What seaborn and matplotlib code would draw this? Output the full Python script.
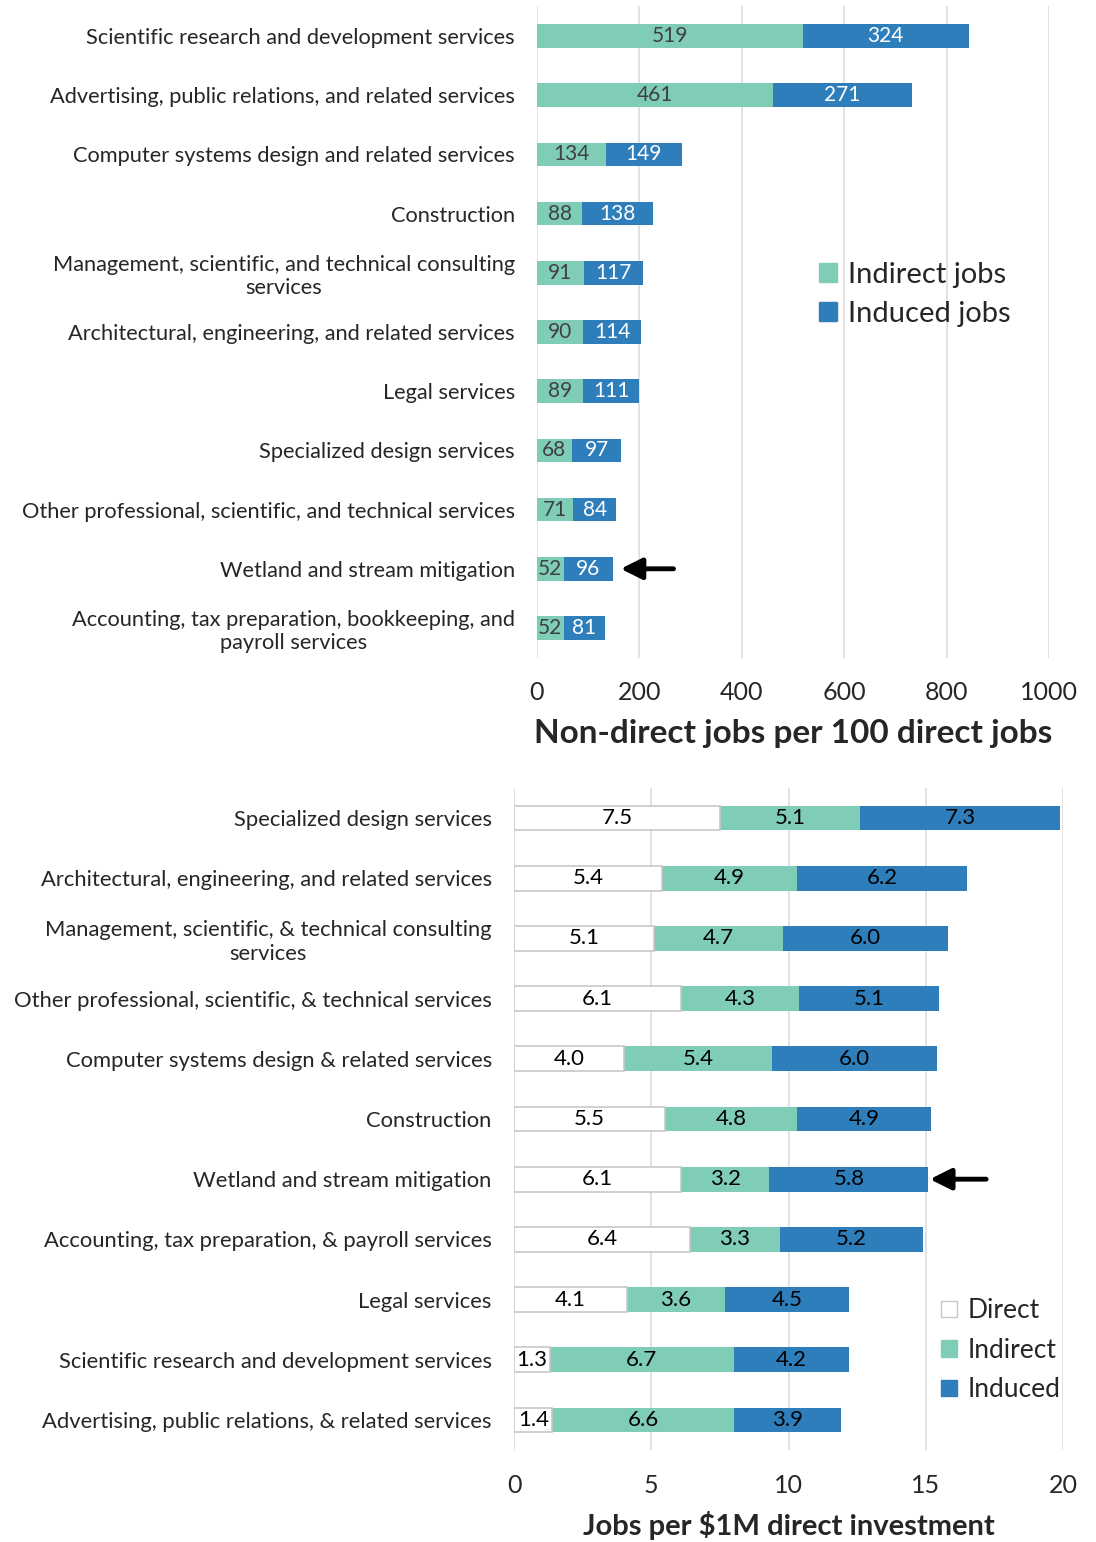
import matplotlib
matplotlib.use("Agg")
import matplotlib.pyplot as plt
import seaborn as sns
import pandas as pd
import numpy as np
from matplotlib.patches import Patch

# ---------------- data ----------------
top_categories = [
    "Scientific research and development services",
    "Advertising, public relations, and related services",
    "Computer systems design and related services",
    "Construction",
    "Management, scientific, and technical consulting\nservices",
    "Architectural, engineering, and related services",
    "Legal services",
    "Specialized design services",
    "Other professional, scientific, and technical services",
    "Wetland and stream mitigation",
    "Accounting, tax preparation, bookkeeping, and\npayroll services",
]
top_indirect = [519, 461, 134, 88, 91, 90, 89, 68, 71, 52, 52]
top_induced = [324, 271, 149, 138, 117, 114, 111, 97, 84, 96, 81]
top_ticks = [0, 200, 400, 600, 800, 1000]

bot_categories = [
    "Specialized design services",
    "Architectural, engineering, and related services",
    "Management, scientific, & technical consulting\nservices",
    "Other professional, scientific, & technical services",
    "Computer systems design & related services",
    "Construction",
    "Wetland and stream mitigation",
    "Accounting, tax preparation, & payroll services",
    "Legal services",
    "Scientific research and development services",
    "Advertising, public relations, & related services",
]
bot_direct = [7.5, 5.4, 5.1, 6.1, 4.0, 5.5, 6.1, 6.4, 4.1, 1.3, 1.4]
bot_indirect = [5.1, 4.9, 4.7, 4.3, 5.4, 4.8, 3.2, 3.3, 3.6, 6.7, 6.6]
bot_induced = [7.3, 6.2, 6.0, 5.1, 6.0, 4.9, 5.8, 5.2, 4.5, 4.2, 3.9]
bot_ticks = [0, 5, 10, 15, 20]

C_IND = "#80CDB7"
C_INDUCED = "#2E7EBB"
C_EDGE = "#C8C8C8"
GRID = "#DDDDDD"

sns.set_theme(style="white")
plt.rcParams['font.family'] = ['Lato', 'DejaVu Sans']

fig = plt.figure(figsize=(10.96, 15.42), dpi=100)

# ---------------- top chart ----------------
ax1 = fig.add_axes([537/1096, 1-657.6/1542, 512/1096, 651.2/1542])
df1 = pd.DataFrame({"cat": top_categories, "indirect": top_indirect, "induced": top_induced})
df1["total"] = df1["indirect"] + df1["induced"]
sns.barplot(data=df1, x="total", y="cat", order=top_categories, orient="h",
            color=C_INDUCED, width=0.4, ax=ax1, saturation=1, linewidth=0)
sns.barplot(data=df1, x="indirect", y="cat", order=top_categories, orient="h",
            color=C_IND, width=0.4, ax=ax1, saturation=1, linewidth=0)
for i, (a, b) in enumerate(zip(top_indirect, top_induced)):
    ax1.text(a/2, i, str(a), ha="center", va="center", fontsize=15, color="#404040")
    ax1.text(a + b/2, i, str(b), ha="center", va="center", fontsize=15, color="white")
ax1.set_xlim(0, 1000)
ax1.set_ylim(10.5, -0.5)
ax1.set_xticks(top_ticks)
ax1.set_xticklabels([str(t) for t in top_ticks], fontsize=18)
ax1.tick_params(axis="x", length=0, pad=17)
ax1.tick_params(axis="y", length=0, pad=16, labelsize=15.7)
for lbl in ax1.get_yticklabels():
    lbl.set_multialignment("center")
ax1.xaxis.grid(True, color=GRID, lw=1.2)
ax1.set_axisbelow(True)
for s in ax1.spines.values():
    s.set_visible(False)
ax1.set_ylabel("")
ax1.set_xlabel("Non-direct jobs per 100 direct jobs", fontsize=24, fontweight="bold", labelpad=11)
ax1.annotate("", xy=(158, 9), xytext=(272, 9),
             arrowprops=dict(arrowstyle="-|>", color="black", lw=3.5, mutation_scale=32))
h1 = [Patch(color=C_IND), Patch(color=C_INDUCED)]
ax1.legend(h1, ["Indirect jobs", "Induced jobs"], loc="upper left", bbox_to_anchor=(0.50, 0.648),
           frameon=False, fontsize=21, handlelength=0.6, handleheight=0.6, handletextpad=0.4,
           labelspacing=0.45)

# ---------------- bottom chart ----------------
ax2 = fig.add_axes([514/1096, 1-1450/1542, 549/1096, 662/1542])
df2 = pd.DataFrame({"cat": bot_categories, "direct": bot_direct,
                    "indirect": bot_indirect, "induced": bot_induced})
df2["cum2"] = df2["direct"] + df2["indirect"]
df2["total"] = df2["cum2"] + df2["induced"]
sns.barplot(data=df2, x="total", y="cat", order=bot_categories, orient="h",
            color=C_INDUCED, width=0.41, ax=ax2, saturation=1, linewidth=0)
sns.barplot(data=df2, x="cum2", y="cat", order=bot_categories, orient="h",
            color=C_IND, width=0.41, ax=ax2, saturation=1, linewidth=0)
sns.barplot(data=df2, x="direct", y="cat", order=bot_categories, orient="h",
            color="white", width=0.41, ax=ax2, saturation=1, linewidth=1.2, edgecolor=C_EDGE)
for i, (d, a, b) in enumerate(zip(bot_direct, bot_indirect, bot_induced)):
    ax2.text(d/2, i, f"{d:.1f}", ha="center", va="center", fontsize=16, color="black")
    ax2.text(d + a/2, i, f"{a:.1f}", ha="center", va="center", fontsize=16, color="black")
    ax2.text(d + a + b/2, i, f"{b:.1f}", ha="center", va="center", fontsize=16, color="black")
ax2.set_xlim(0, 20)
ax2.set_ylim(10.5, -0.5)
ax2.set_xticks(bot_ticks)
ax2.set_xticklabels([str(t) for t in bot_ticks], fontsize=18)
ax2.tick_params(axis="x", length=0, pad=17)
ax2.tick_params(axis="y", length=0, pad=16, labelsize=15.8)
for lbl in ax2.get_yticklabels():
    lbl.set_multialignment("center")
ax2.xaxis.grid(True, color=GRID, lw=1.2)
ax2.set_axisbelow(True)
for s in ax2.spines.values():
    s.set_visible(False)
ax2.set_ylabel("")
ax2.set_xlabel("Jobs per $1M direct investment", fontsize=21, fontweight="bold", labelpad=10)
ax2.annotate("", xy=(15.05, 6), xytext=(17.3, 6),
             arrowprops=dict(arrowstyle="-|>", color="black", lw=3.5, mutation_scale=32))
h2 = [Patch(facecolor="white", edgecolor=C_EDGE), Patch(color=C_IND), Patch(color=C_INDUCED)]
ax2.legend(h2, ["Direct", "Indirect", "Induced"], loc="upper left", bbox_to_anchor=(0.735, 0.265),
           frameon=False, fontsize=19, handlelength=0.6, handleheight=0.6, handletextpad=0.4,
           labelspacing=0.55)

fig.savefig("out.png", dpi=100)
